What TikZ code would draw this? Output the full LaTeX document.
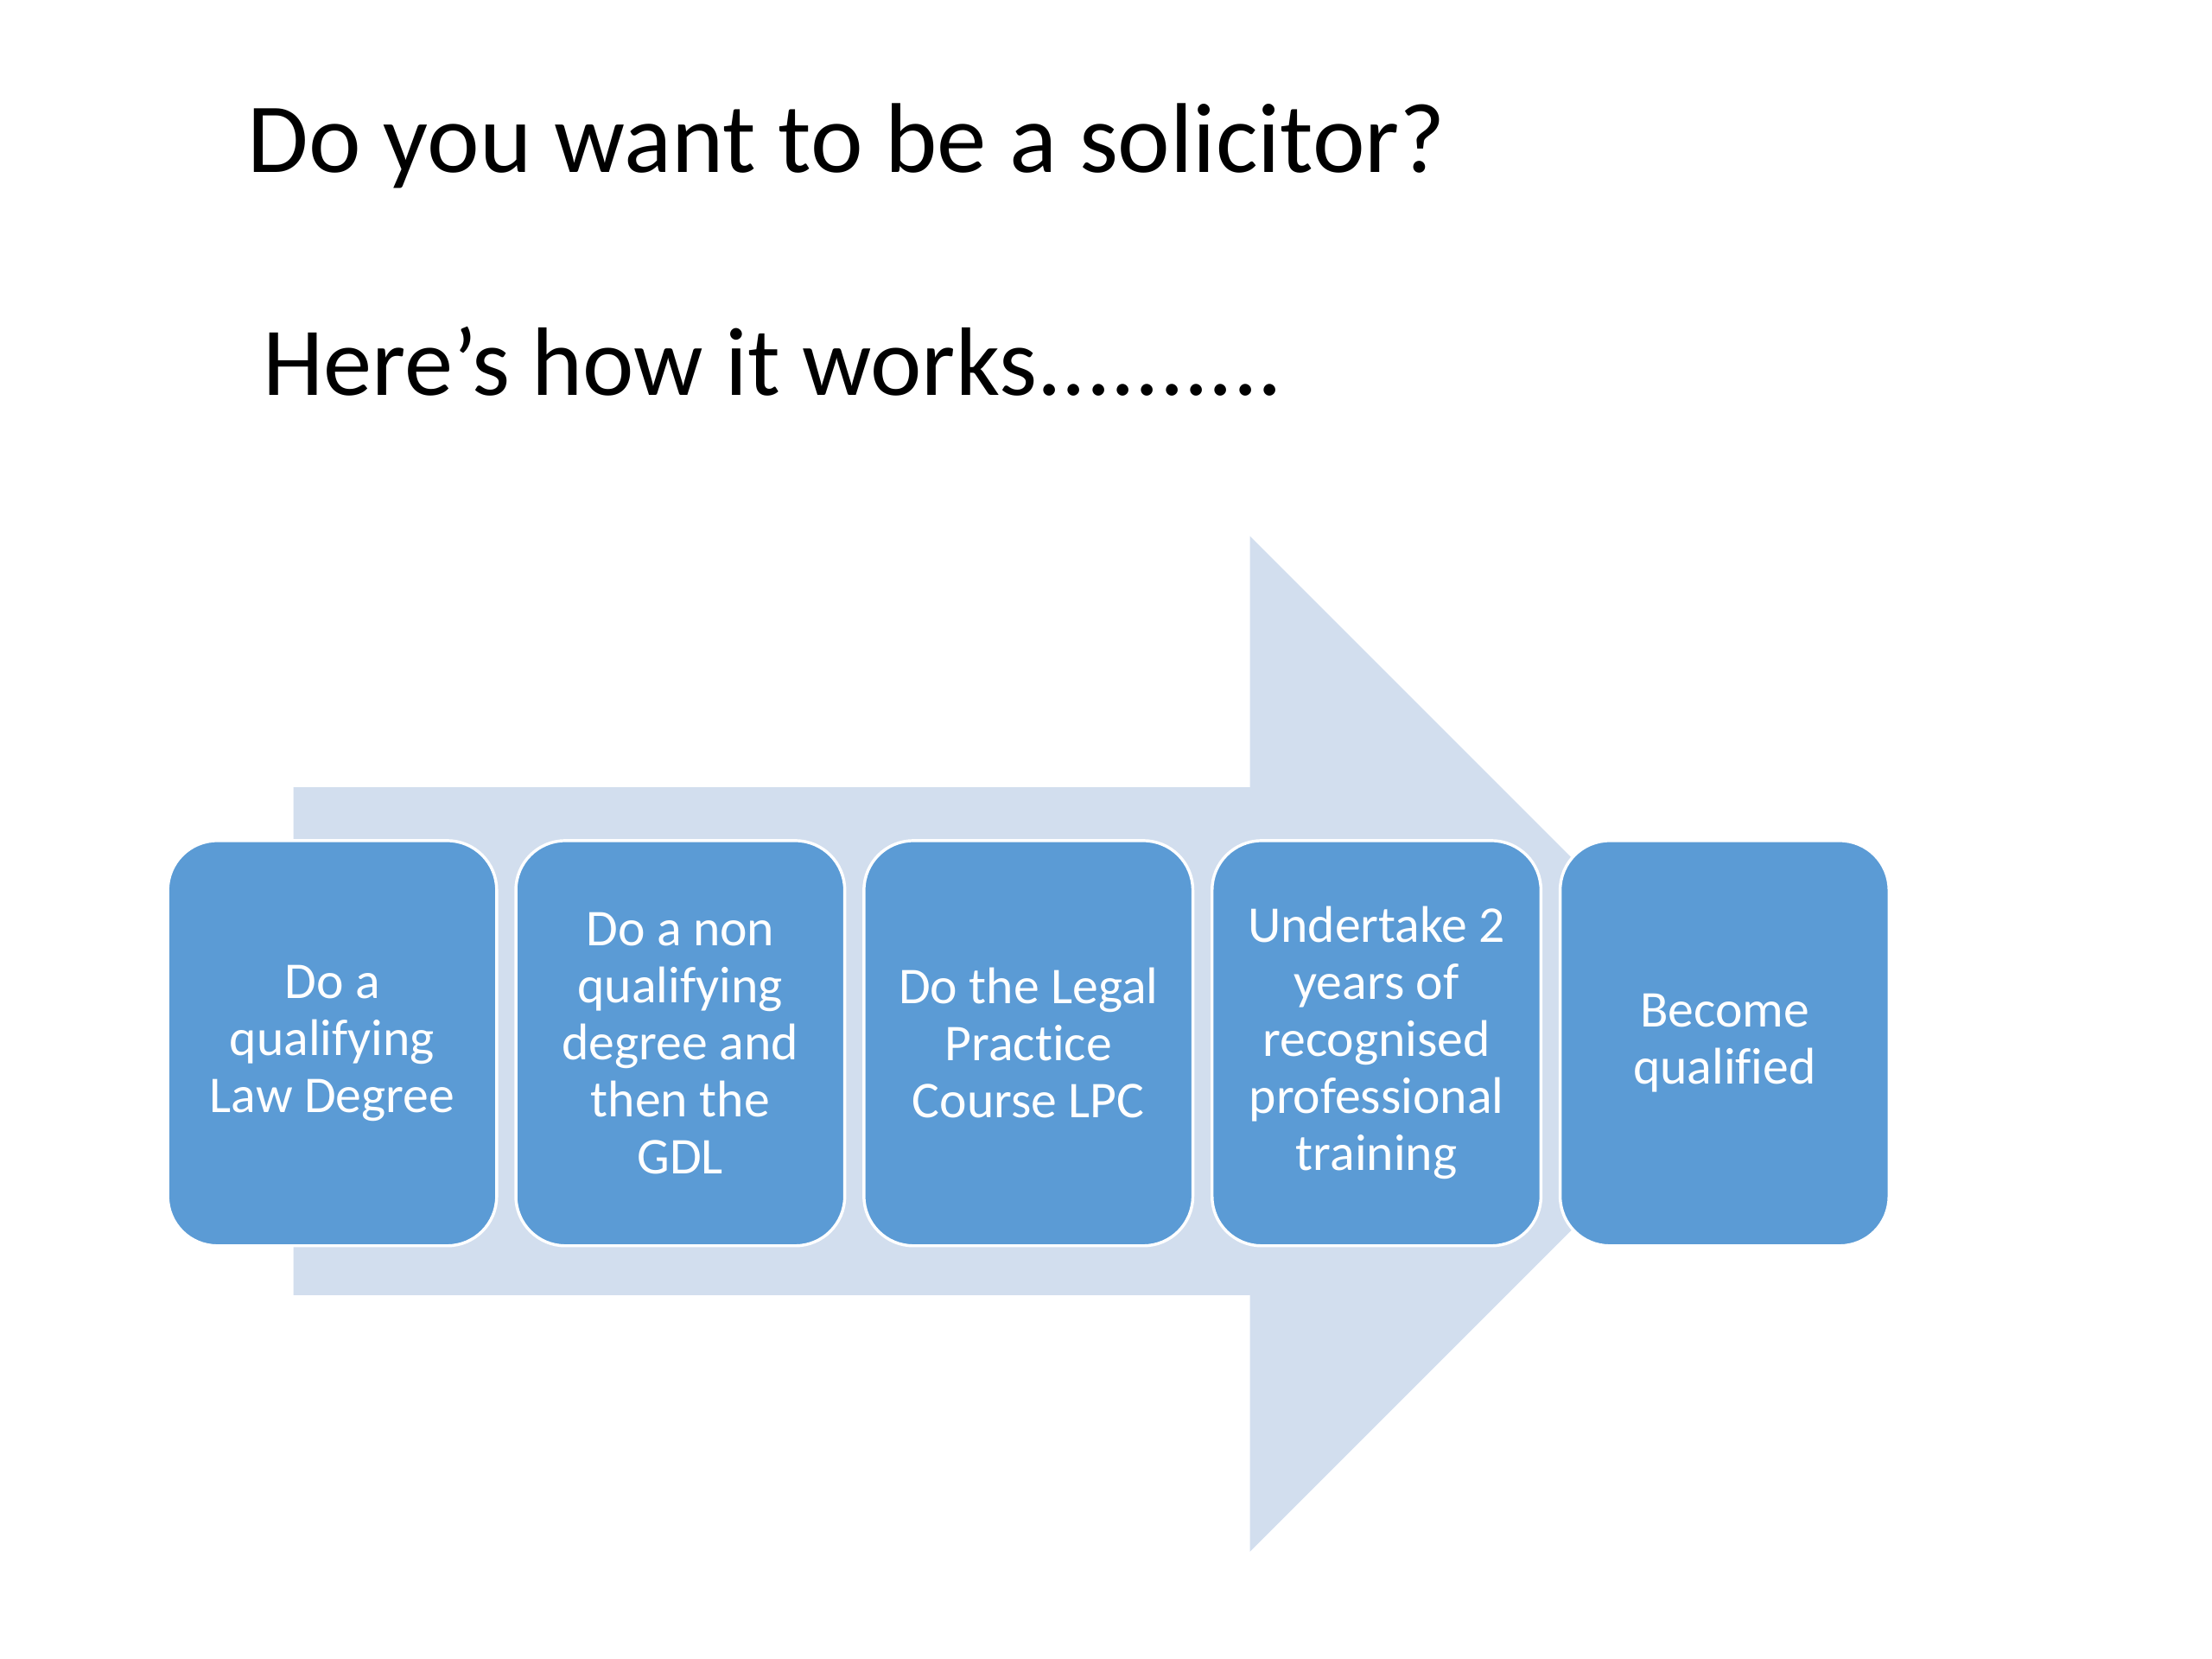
\documentclass[tikz,border=0pt]{standalone}
\usepackage{fontspec}
\setmainfont{Carlito}[Ligatures=NoCommon]
\usepackage{tikz}
\usepackage{xcolor}
\usetikzlibrary{positioning}
\definecolor{Step_Blue}{HTML}{5B9BD5}
\definecolor{Arrow_Pale}{HTML}{D2DEEE}

\tikzset{
  stepbox/.style={rectangle, rounded corners=0.35cm, fill=Step_Blue, draw=white,
    line width=0.6pt, minimum width=2.33cm, minimum height=2.87cm,
    align=center, text=white, inner sep=0pt,
    font=\fontsize{10.4}{11.5}\selectfont},
  headline/.style={anchor=base west, inner sep=0pt, font=\fontsize{20}{24}\selectfont}
}

\begin{document}
\begin{tikzpicture}[x=0.01cm, y=-0.01cm]
    \useasboundingbox (0, 0) rectangle (1568, 1176);

    % Headings
    \node[headline] (question) at (175, 122) {Do you want to be a solicitor?};
    \node[headline, font=\fontsize{19.6}{24}\selectfont] (howto) at (186, 280) {Here’s how it works..........};

    % Big background arrow
    \fill[Arrow_Pale] (208, 558) -- (886, 558) -- (886, 380) -- (1246, 740)
        -- (886, 1100) -- (886, 918) -- (208, 918) -- cycle;

    % Steps
    \node[stepbox] (degree) at (235.5, 739.5) {Do a\\qualifying\\Law Degree};
    \node[stepbox, right=0.115cm of degree] (gdl) {Do a non\\qualifying\\degree and\\then the\\GDL};
    \node[stepbox, right=0.115cm of gdl] (lpc) {Do the Legal\\Practice\\Course LPC};
    \node[stepbox, right=0.115cm of lpc] (training) {Undertake 2\\years of\\recognised\\professional\\training};
    \node[stepbox, right=0.115cm of training] (qualified) {Become\\qualified};
\end{tikzpicture}
\end{document}
